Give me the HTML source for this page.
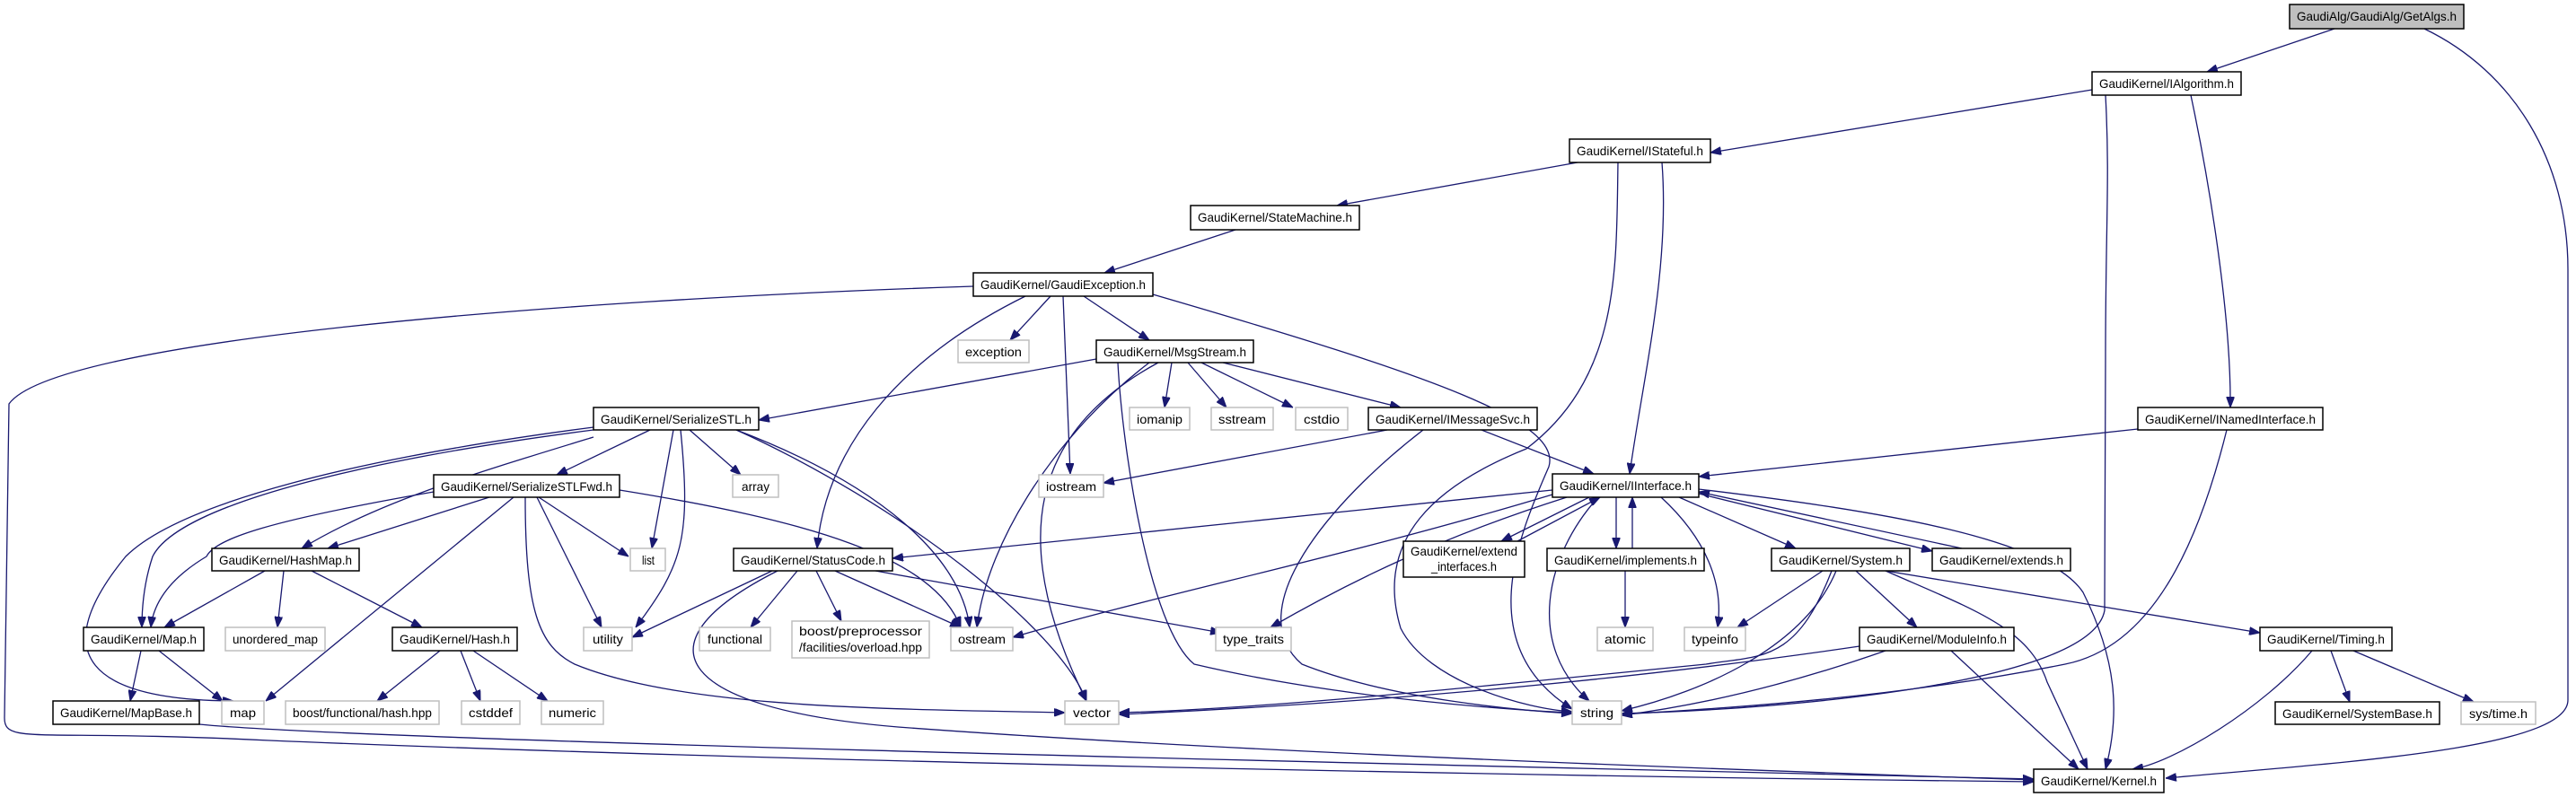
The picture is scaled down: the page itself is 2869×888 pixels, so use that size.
<!DOCTYPE html>
<html><head><meta charset="utf-8"><style>
html,body{margin:0;padding:0;background:#fff;}
svg{display:block;}
text{font-family:"Liberation Sans",Arial,sans-serif;font-size:14px;fill:#000;}
.b{fill:#fff;stroke:#000;stroke-width:1.5;}
.g{fill:#fff;stroke:#bfbfbf;stroke-width:1.5;}
path.e{fill:none;stroke:#191970;stroke-width:1.3;marker-end:url(#a);}
</style></head><body>
<svg width="2869" height="888" viewBox="0 0 2869 888" xmlns="http://www.w3.org/2000/svg">
<defs><marker id="a" markerUnits="userSpaceOnUse" markerWidth="12" markerHeight="9" refX="12" refY="4.5" orient="auto"><path d="M0,0 L12,4.5 L0,9 z" fill="#191970" stroke="#191970"/></marker></defs>
<g>
<path class="e" d="M2600,32 L2458,80"/>
<path class="e" d="M2700,32 C2800,80 2860,180 2860,300 L2860,780 C2860,835 2600,850 2412,867"/>
<path class="e" d="M2330,100 L1905,170"/>
<path class="e" d="M2440,106 C2460,200 2485,350 2484,454"/>
<path class="e" d="M2345,106 C2350,200 2345,250 2345,400 L2344,680 C2330,760 2000,790 1806,795"/>
<path class="e" d="M1757,181 L1489,229"/>
<path class="e" d="M1851,181 C1860,300 1830,420 1815,528"/>
<path class="e" d="M1802,181 C1800,300 1805,420 1700,500 C1600,540 1530,600 1560,700 C1590,760 1700,790 1751,793"/>
<path class="e" d="M1376,256 L1230,304"/>
<path class="e" d="M1084,319 C600,335 60,380 10,450 L5,800 C5,830 40,812 300,825 C900,850 1800,866 2265,871"/>
<path class="e" d="M1142,330 C1000,400 920,500 910,611"/>
<path class="e" d="M1170,330 L1125,379"/>
<path class="e" d="M1207,330 L1280,379"/>
<path class="e" d="M1184,330 L1192,528"/>
<path class="e" d="M1284,328 C1600,420 1740,470 1725,520 C1690,600 1640,720 1751,790"/>
<path class="e" d="M1221,400 L845,468"/>
<path class="e" d="M1305,404 L1297,454"/>
<path class="e" d="M1323,404 L1366,454"/>
<path class="e" d="M1338,404 L1440,454"/>
<path class="e" d="M1362,404 L1560,454"/>
<path class="e" d="M1280,404 C1180,480 1100,600 1088,699"/>
<path class="e" d="M1290,404 C1150,480 1120,600 1210,781"/>
<path class="e" d="M1245,404 C1250,500 1280,700 1330,740 C1500,780 1700,792 1751,794"/>
<path class="e" d="M1545,479 L1229,538"/>
<path class="e" d="M1650,479 L1775,528"/>
<path class="e" d="M1585,479 C1480,560 1380,680 1450,740 C1550,780 1700,792 1751,795"/>
<path class="e" d="M2381,478 L1892,531"/>
<path class="e" d="M2480,479 C2450,600 2400,720 2300,740 C2100,780 1900,790 1806,796"/>
<path class="e" d="M1729,546 L994,622"/>
<path class="e" d="M1729,551 C1500,620 1300,660 1128,710"/>
<path class="e" d="M1745,554 C1600,600 1500,650 1415,699"/>
<path class="e" d="M1770,554 L1672,603"/>
<path class="e" d="M1690,603 L1782,554"/>
<path class="e" d="M1800,554 L1800,611"/>
<path class="e" d="M1818,611 L1818,554"/>
<path class="e" d="M1810,636 L1810,699"/>
<path class="e" d="M1850,554 C1900,600 1920,650 1913,699"/>
<path class="e" d="M1870,554 L2000,611"/>
<path class="e" d="M1892,550 L2152,614"/>
<path class="e" d="M2185,611 L1892,548"/>
<path class="e" d="M1892,545 C2100,570 2280,600 2320,660 C2360,740 2360,800 2345,857"/>
<path class="e" d="M1780,554 C1720,620 1700,720 1770,781"/>
<path class="e" d="M2030,636 L1935,699"/>
<path class="e" d="M2100,636 C2200,680 2260,700 2280,760 L2325,857"/>
<path class="e" d="M2067,636 L2135,699"/>
<path class="e" d="M2100,636 L2517,705"/>
<path class="e" d="M2040,636 C2000,740 1960,730 1900,740 C1600,770 1400,790 1246,794"/>
<path class="e" d="M2045,636 C2010,720 1900,770 1806,792"/>
<path class="e" d="M2071,720 C1800,760 1500,785 1246,796"/>
<path class="e" d="M2100,725 C2000,760 1900,785 1806,797"/>
<path class="e" d="M2173,725 L2315,857"/>
<path class="e" d="M2575,725 C2520,790 2420,850 2375,857"/>
<path class="e" d="M2596,725 L2617,782"/>
<path class="e" d="M2621,725 L2755,782"/>
<path class="e" d="M860,636 L704,710"/>
<path class="e" d="M888,636 L836,699"/>
<path class="e" d="M909,636 L937,692"/>
<path class="e" d="M930,636 L1070,699"/>
<path class="e" d="M975,636 L1360,705"/>
<path class="e" d="M866,636 C700,720 760,790 1000,810 C1400,840 2000,860 2265,869"/>
<path class="e" d="M724,479 L620,529"/>
<path class="e" d="M768,479 L825,529"/>
<path class="e" d="M750,479 L726,611"/>
<path class="e" d="M758,479 C770,600 760,630 708,699"/>
<path class="e" d="M661,487 C520,530 420,560 336,611"/>
<path class="e" d="M661,479 C420,510 200,560 170,620 C160,650 158,680 158,699"/>
<path class="e" d="M661,476 C400,510 200,560 140,620 C50,730 100,780 260,781"/>
<path class="e" d="M820,479 C980,540 1070,620 1080,699"/>
<path class="e" d="M820,479 C1000,560 1180,700 1210,781"/>
<path class="e" d="M545,554 L365,611"/>
<path class="e" d="M483,548 C300,580 240,600 230,620 C180,650 170,680 168,699"/>
<path class="e" d="M572,554 L296,781"/>
<path class="e" d="M600,554 L700,620"/>
<path class="e" d="M598,554 L670,699"/>
<path class="e" d="M690,546 C900,580 1040,620 1070,699"/>
<path class="e" d="M585,554 C585,680 600,720 640,740 C760,790 1000,790 1186,794"/>
<path class="e" d="M295,636 L183,699"/>
<path class="e" d="M316,636 L309,699"/>
<path class="e" d="M347,636 L470,699"/>
<path class="e" d="M157,725 L145,781"/>
<path class="e" d="M177,725 L248,781"/>
<path class="e" d="M222,807 C400,825 1500,850 2265,868"/>
<path class="e" d="M490,725 L420,781"/>
<path class="e" d="M513,725 L535,781"/>
<path class="e" d="M527,725 L610,781"/>
</g>
<g>
<rect x="2550" y="5" width="194" height="27" fill="#bfbfbf" stroke="#000" stroke-width="1.5"/>
<text x="2558" y="23" textLength="178" lengthAdjust="spacingAndGlyphs">GaudiAlg/GaudiAlg/GetAlgs.h</text>
<rect class="b" x="2330" y="80" width="166" height="26"/><text x="2338" y="98" textLength="150" lengthAdjust="spacingAndGlyphs">GaudiKernel/IAlgorithm.h</text>
<rect class="b" x="1748" y="155" width="157" height="26"/><text x="1756" y="173" textLength="141" lengthAdjust="spacingAndGlyphs">GaudiKernel/IStateful.h</text>
<rect class="b" x="1326" y="229" width="188" height="27"/><text x="1334" y="247" textLength="172" lengthAdjust="spacingAndGlyphs">GaudiKernel/StateMachine.h</text>
<rect class="b" x="1084" y="304" width="200" height="26"/><text x="1092" y="322" textLength="184" lengthAdjust="spacingAndGlyphs">GaudiKernel/GaudiException.h</text>
<rect class="g" x="1067" y="379" width="79" height="25"/><text x="1075" y="397" textLength="63" lengthAdjust="spacingAndGlyphs">exception</text>
<rect class="b" x="1221" y="379" width="175" height="25"/><text x="1229" y="397" textLength="159" lengthAdjust="spacingAndGlyphs">GaudiKernel/MsgStream.h</text>
<rect class="g" x="1258" y="454" width="67" height="25"/><text x="1266" y="472" textLength="51" lengthAdjust="spacingAndGlyphs">iomanip</text>
<rect class="g" x="1349" y="454" width="69" height="25"/><text x="1357" y="472" textLength="53" lengthAdjust="spacingAndGlyphs">sstream</text>
<rect class="g" x="1443" y="454" width="58" height="25"/><text x="1452" y="472" textLength="40" lengthAdjust="spacingAndGlyphs">cstdio</text>
<rect class="b" x="1524" y="454" width="188" height="25"/><text x="1532" y="472" textLength="172" lengthAdjust="spacingAndGlyphs">GaudiKernel/IMessageSvc.h</text>
<rect class="b" x="2381" y="454" width="206" height="25"/><text x="2389" y="472" textLength="190" lengthAdjust="spacingAndGlyphs">GaudiKernel/INamedInterface.h</text>
<rect class="b" x="661" y="454" width="184" height="25"/><text x="669" y="472" textLength="168" lengthAdjust="spacingAndGlyphs">GaudiKernel/SerializeSTL.h</text>
<rect class="b" x="483" y="529" width="207" height="25"/><text x="491" y="547" textLength="191" lengthAdjust="spacingAndGlyphs">GaudiKernel/SerializeSTLFwd.h</text>
<rect class="g" x="816" y="529" width="51" height="25"/><text x="826" y="547" textLength="31" lengthAdjust="spacingAndGlyphs">array</text>
<rect class="g" x="1157" y="529" width="72" height="25"/><text x="1165" y="547" textLength="56" lengthAdjust="spacingAndGlyphs">iostream</text>
<rect class="b" x="1729" y="528" width="163" height="26"/><text x="1737" y="546" textLength="147" lengthAdjust="spacingAndGlyphs">GaudiKernel/IInterface.h</text>
<rect class="b" x="236" y="611" width="164" height="25"/><text x="244" y="629" textLength="148" lengthAdjust="spacingAndGlyphs">GaudiKernel/HashMap.h</text>
<rect class="g" x="702" y="611" width="39" height="25"/><text x="715" y="629" textLength="14" lengthAdjust="spacingAndGlyphs">list</text>
<rect class="b" x="817" y="611" width="177" height="25"/><text x="825" y="629" textLength="161" lengthAdjust="spacingAndGlyphs">GaudiKernel/StatusCode.h</text>
<rect class="b" x="1563" y="603" width="135" height="40"/><text x="1571" y="619" textLength="119" lengthAdjust="spacingAndGlyphs">GaudiKernel/extend</text><text x="1594" y="636" textLength="73" lengthAdjust="spacingAndGlyphs">_interfaces.h</text>
<rect class="b" x="1723" y="611" width="175" height="25"/><text x="1731" y="629" textLength="159" lengthAdjust="spacingAndGlyphs">GaudiKernel/implements.h</text>
<rect class="b" x="1973" y="611" width="154" height="25"/><text x="1981" y="629" textLength="138" lengthAdjust="spacingAndGlyphs">GaudiKernel/System.h</text>
<rect class="b" x="2152" y="611" width="154" height="25"/><text x="2160" y="629" textLength="138" lengthAdjust="spacingAndGlyphs">GaudiKernel/extends.h</text>
<rect class="b" x="93" y="699" width="134" height="26"/><text x="101" y="717" textLength="118" lengthAdjust="spacingAndGlyphs">GaudiKernel/Map.h</text>
<rect class="g" x="251" y="699" width="111" height="26"/><text x="259" y="717" textLength="95" lengthAdjust="spacingAndGlyphs">unordered_map</text>
<rect class="b" x="437" y="699" width="139" height="26"/><text x="445" y="717" textLength="123" lengthAdjust="spacingAndGlyphs">GaudiKernel/Hash.h</text>
<rect class="g" x="650" y="699" width="54" height="26"/><text x="660" y="717" textLength="34" lengthAdjust="spacingAndGlyphs">utility</text>
<rect class="g" x="779" y="699" width="79" height="26"/><text x="788" y="717" textLength="61" lengthAdjust="spacingAndGlyphs">functional</text>
<rect class="g" x="882" y="692" width="153" height="41"/><text x="890" y="708" textLength="137" lengthAdjust="spacingAndGlyphs">boost/preprocessor</text><text x="890" y="726" textLength="137" lengthAdjust="spacingAndGlyphs">/facilities/overload.hpp</text>
<rect class="g" x="1059" y="699" width="69" height="26"/><text x="1067" y="717" textLength="53" lengthAdjust="spacingAndGlyphs">ostream</text>
<rect class="g" x="1354" y="699" width="84" height="26"/><text x="1362" y="717" textLength="68" lengthAdjust="spacingAndGlyphs">type_traits</text>
<rect class="g" x="1779" y="699" width="62" height="26"/><text x="1787" y="717" textLength="46" lengthAdjust="spacingAndGlyphs">atomic</text>
<rect class="g" x="1876" y="699" width="68" height="26"/><text x="1884" y="717" textLength="52" lengthAdjust="spacingAndGlyphs">typeinfo</text>
<rect class="b" x="2071" y="699" width="172" height="26"/><text x="2079" y="717" textLength="156" lengthAdjust="spacingAndGlyphs">GaudiKernel/ModuleInfo.h</text>
<rect class="b" x="2517" y="699" width="147" height="26"/><text x="2525" y="717" textLength="131" lengthAdjust="spacingAndGlyphs">GaudiKernel/Timing.h</text>
<rect class="b" x="59" y="781" width="163" height="26"/><text x="67" y="799" textLength="147" lengthAdjust="spacingAndGlyphs">GaudiKernel/MapBase.h</text>
<rect class="g" x="247" y="781" width="47" height="26"/><text x="256" y="799" textLength="29" lengthAdjust="spacingAndGlyphs">map</text>
<rect class="g" x="318" y="781" width="171" height="26"/><text x="326" y="799" textLength="155" lengthAdjust="spacingAndGlyphs">boost/functional/hash.hpp</text>
<rect class="g" x="514" y="781" width="65" height="26"/><text x="522" y="799" textLength="49" lengthAdjust="spacingAndGlyphs">cstddef</text>
<rect class="g" x="603" y="781" width="69" height="26"/><text x="611" y="799" textLength="53" lengthAdjust="spacingAndGlyphs">numeric</text>
<rect class="g" x="1186" y="781" width="60" height="26"/><text x="1195" y="799" textLength="42" lengthAdjust="spacingAndGlyphs">vector</text>
<rect class="g" x="1751" y="781" width="55" height="26"/><text x="1760" y="799" textLength="37" lengthAdjust="spacingAndGlyphs">string</text>
<rect class="b" x="2534" y="782" width="183" height="25"/><text x="2542" y="800" textLength="167" lengthAdjust="spacingAndGlyphs">GaudiKernel/SystemBase.h</text>
<rect class="g" x="2741" y="782" width="83" height="25"/><text x="2750" y="800" textLength="65" lengthAdjust="spacingAndGlyphs">sys/time.h</text>
<rect class="b" x="2265" y="857" width="145" height="26"/><text x="2273" y="875" textLength="129" lengthAdjust="spacingAndGlyphs">GaudiKernel/Kernel.h</text>
</g>
</svg>
</body></html>
